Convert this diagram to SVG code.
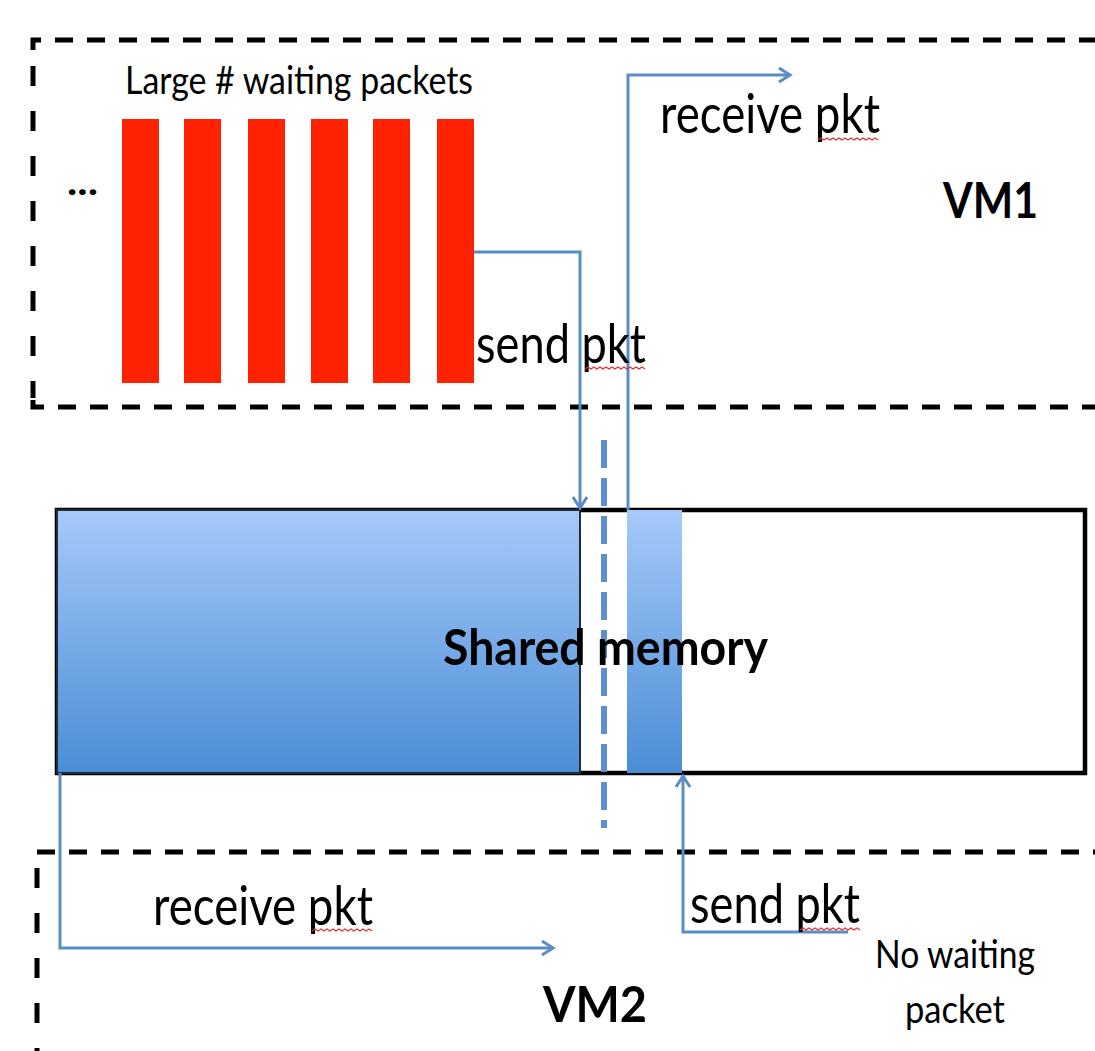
<svg xmlns="http://www.w3.org/2000/svg" width="1095" height="1051" viewBox="0 0 1095 1051">
  <style>
    .vmframe { fill: none; stroke: #000; stroke-width: 5; stroke-dasharray: 18 14; }
    .vmside { fill: none; stroke: #000; stroke-width: 5; stroke-dasharray: 20 25; }
    .flow { fill: none; stroke: #5b8cc4; stroke-width: 3; }
    .lbl { font-family: Lato, "Open Sans", "Liberation Sans", sans-serif; fill: #000; }
    .big { font-size: 54px; }
    .mid { font-size: 38px; }
    .head { font-size: 50px; font-weight: bold; }
    .squig { fill: none; stroke: #e03030; stroke-width: 1.2; }
    .pkt { fill: #ff2200; }
  </style>
  <defs>
    <linearGradient id="memFill" x1="0" y1="0" x2="0" y2="1">
      <stop offset="0" stop-color="#a6c9f9"/>
      <stop offset="1" stop-color="#4a8ed6"/>
    </linearGradient>
    <marker id="chev" markerUnits="userSpaceOnUse" markerWidth="20" markerHeight="20" refX="13" refY="8" orient="auto">
      <path d="M2,1 L13,8 L2,15" fill="none" stroke="#5b8cc4" stroke-width="3"/>
    </marker>
  </defs>

  <rect width="1095" height="1051" fill="#fff"/>

  <!-- VM1 region -->
  <g id="vm1">
    <path class="vmframe" d="M33 50 V40 H1095"/>
    <path class="vmside" d="M33 66 V398"/>
    <path class="vmframe" d="M33 400 V407 H1095"/>
    <text class="lbl head" x="943" y="218" textLength="95" lengthAdjust="spacingAndGlyphs">VM1</text>
  </g>

  <!-- queue of waiting packets in VM1 -->
  <g id="packets">
    <text class="lbl mid" x="125" y="94" textLength="348" lengthAdjust="spacingAndGlyphs">Large # waiting packets</text>
    <text class="lbl mid" x="67" y="195" font-weight="bold" textLength="31" lengthAdjust="spacingAndGlyphs">...</text>
    <rect class="pkt" x="122" y="119" width="37" height="264"/>
    <rect class="pkt" x="184" y="119" width="37" height="264"/>
    <rect class="pkt" x="248" y="119" width="37" height="264"/>
    <rect class="pkt" x="311" y="119" width="37" height="264"/>
    <rect class="pkt" x="373" y="119" width="37" height="264"/>
    <rect class="pkt" x="437" y="119" width="37" height="264"/>
  </g>

  <!-- shared memory ring -->
  <g id="shared-memory">
    <rect x="57" y="510" width="1028" height="263" fill="#fff" stroke="#000" stroke-width="4.5"/>
    <rect x="57" y="510" width="523" height="263" fill="url(#memFill)" stroke="#1e2c3c" stroke-width="2"/>
    <rect x="627" y="510" width="55" height="263" fill="url(#memFill)"/>
    <line x1="604" y1="440" x2="604" y2="828" stroke="#5b8fcf" stroke-width="6" stroke-dasharray="28 10"/>
    <text class="lbl head" x="443" y="665" textLength="325" lengthAdjust="spacingAndGlyphs">Shared memory</text>
  </g>

  <!-- VM2 region -->
  <g id="vm2">
    <path class="vmframe" d="M37 852 H1095"/>
    <path class="vmside" d="M37 868 V1051"/>
    <text class="lbl head" x="543" y="1022" textLength="104" lengthAdjust="spacingAndGlyphs">VM2</text>
    <text class="lbl mid" x="875" y="968" textLength="160" lengthAdjust="spacingAndGlyphs">No waiting</text>
    <text class="lbl mid" x="905" y="1023" textLength="100" lengthAdjust="spacingAndGlyphs">packet</text>
  </g>

  <!-- packet flows between the VMs and shared memory -->
  <g id="connectors">
    <path class="flow" d="M474 252 H580 V508" marker-end="url(#chev)"/>
    <path class="flow" d="M628 510 V75 H790" marker-end="url(#chev)"/>
    <path class="flow" d="M60 773 V948 H553" marker-end="url(#chev)"/>
    <path class="flow" d="M848 932 H683 V776" marker-end="url(#chev)"/>
  </g>

  <!-- flow labels -->
  <g id="flow-labels">
    <text class="lbl big" x="660" y="133" textLength="220" lengthAdjust="spacingAndGlyphs">receive pkt</text>
    <text class="lbl big" x="476" y="363" textLength="170" lengthAdjust="spacingAndGlyphs">send pkt</text>
    <text class="lbl big" x="153" y="925" textLength="220" lengthAdjust="spacingAndGlyphs">receive pkt</text>
    <text class="lbl big" x="690" y="923" textLength="170" lengthAdjust="spacingAndGlyphs">send pkt</text>
    <path class="squig" d="M818 140 l3 -2 l3 2 l3 -2 l3 2 l3 -2 l3 2 l3 -2 l3 2 l3 -2 l3 2 l3 -2 l3 2 l3 -2 l3 2 l3 -2 l3 2 l3 -2 l3 2 l3 -2 l3 2"/>
    <path class="squig" d="M585 369 l3 -2 l3 2 l3 -2 l3 2 l3 -2 l3 2 l3 -2 l3 2 l3 -2 l3 2 l3 -2 l3 2 l3 -2 l3 2 l3 -2 l3 2 l3 -2 l3 2 l3 -2 l3 2"/>
    <path class="squig" d="M312 931 l3 -2 l3 2 l3 -2 l3 2 l3 -2 l3 2 l3 -2 l3 2 l3 -2 l3 2 l3 -2 l3 2 l3 -2 l3 2 l3 -2 l3 2 l3 -2 l3 2 l3 -2 l3 2"/>
    <path class="squig" d="M800 930 l3 -2 l3 2 l3 -2 l3 2 l3 -2 l3 2 l3 -2 l3 2 l3 -2 l3 2 l3 -2 l3 2 l3 -2 l3 2 l3 -2 l3 2 l3 -2 l3 2 l3 -2 l3 2"/>
  </g>
</svg>
